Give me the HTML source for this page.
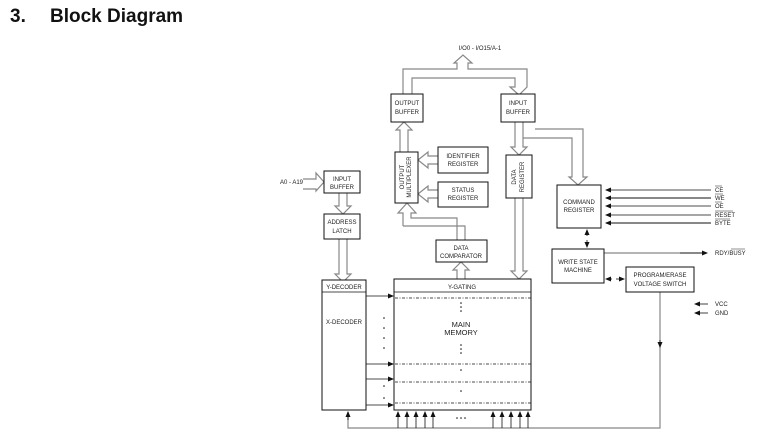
<!DOCTYPE html>
<html><head><meta charset="utf-8"><style>
body{margin:0;background:#fff;width:777px;height:445px;overflow:hidden}
svg{display:block}
text{font-family:"Liberation Sans",sans-serif;font-size:6px;fill:#222}
</style></head><body>
<svg width="777" height="445" viewBox="0 0 777 445" xmlns="http://www.w3.org/2000/svg">
<defs>
<marker id="ah" markerWidth="6" markerHeight="6" refX="5" refY="3" orient="auto" markerUnits="userSpaceOnUse"><path d="M0,0.5 L6,3 L0,5.5 z" fill="#111"/></marker>
</defs>
<text x="10" y="22" style="font-size:19px;font-weight:bold;fill:#111">3.</text>
<text x="50" y="22" style="font-size:19px;font-weight:bold;fill:#111">Block Diagram</text>

<g fill="none" stroke="#888" stroke-width="1.2">
<path d="M403,94 V69 H457 V63 H454 L463,55 L472,63 H468 V69 H527 V87 L527,87 L519,95 L510,87 H515 V78 H412 V94"/>
<path d="M400,152 V130 H396 L404,122 L412,130 H408 V152"/>
<path d="M403,226 H465 V240 M457,240 V218 H411 V213 H416 L407,203 L398,213 H403 V226"/>
<path d="M457,279 V270 H453 L461,262 L469,270 H465 V279"/>
<path d="M438,156 H428 V152 L418,160 L428,168 V164 H438"/>
<path d="M438,190 H428 V186 L418,194 L428,202 V198 H438"/>
<path d="M515,122 V147 H511 L519,155 L527,147 H523 V122"/>
<path d="M515,198 V271 H511 L519,279 L527,271 H523 V198"/>
<path d="M535,129 H583 V177 H587 L578,185 L569,177 H572 V138 H523"/>
<path d="M303,179 H316 V173 L324,182 L316,191 V189 H303"/>
<path d="M339,193 V206 H335 L343,214 L351,206 H347 V193"/>
<path d="M339,239 V274 H335 L343,282 L351,274 H347 V239"/>
<path d="M606,198 H711 M606,223 H711 M604,253 H705 M660,292 V428 H348 V412"/>
</g>
<g stroke="#111" stroke-width="1" fill="#fff">
<rect x="391" y="94" width="32" height="28"/>
<rect x="501" y="94" width="34" height="28"/>
<rect x="395" y="152" width="23" height="51"/>
<rect x="438" y="147" width="50" height="26"/>
<rect x="438" y="182" width="50" height="25"/>
<rect x="506" y="155" width="26" height="43"/>
<rect x="324" y="171" width="36" height="22"/>
<rect x="324" y="214" width="36" height="25"/>
<rect x="436" y="240" width="51" height="22"/>
<rect x="557" y="185" width="44" height="43"/>
<rect x="552" y="249" width="52" height="34"/>
<rect x="626" y="267" width="68" height="25"/>
<rect x="322" y="280" width="44" height="130"/>
<rect x="394" y="279" width="137" height="131"/>
</g>
<g stroke="#111" stroke-width="0.8" fill="none">
<path d="M322,292 H366 M394,292 H531"/>
<path d="M395,298 H531 M395,364 H531 M395,382 H531 M395,403 H531" stroke-dasharray="3,1.5,1,1.5"/>
<path d="M711,190 H606" marker-end="url(#ah)"/>
<path d="M711,198 H606" marker-end="url(#ah)"/>
<path d="M711,206 H606" marker-end="url(#ah)"/>
<path d="M711,215 H606" marker-end="url(#ah)"/>
<path d="M711,223 H606" marker-end="url(#ah)"/>
<path d="M680,253 H707" marker-end="url(#ah)"/>
<path d="M708,304 H695" marker-end="url(#ah)"/>
<path d="M708,313 H695" marker-end="url(#ah)"/>
<path d="M587,236 V230" marker-end="url(#ah)"/>
<path d="M587,240 V247" marker-end="url(#ah)"/>
<path d="M612,279 H606" marker-end="url(#ah)"/>
<path d="M616,279 H624" marker-end="url(#ah)"/>
<path d="M660,340 V347" marker-end="url(#ah)"/>
<path d="M366,296 H393" marker-end="url(#ah)"/>
<path d="M366,364 H393" marker-end="url(#ah)"/>
<path d="M366,379 H393" marker-end="url(#ah)"/>
<path d="M366,405 H393" marker-end="url(#ah)"/>
<path d="M348,420 V412" marker-end="url(#ah)"/>
<path d="M398,428 V412" marker-end="url(#ah)"/><path d="M407,428 V412" marker-end="url(#ah)"/><path d="M416,428 V412" marker-end="url(#ah)"/><path d="M425,428 V412" marker-end="url(#ah)"/><path d="M433,428 V412" marker-end="url(#ah)"/>
<path d="M493,428 V412" marker-end="url(#ah)"/><path d="M502,428 V412" marker-end="url(#ah)"/><path d="M511,428 V412" marker-end="url(#ah)"/><path d="M520,428 V412" marker-end="url(#ah)"/><path d="M528,428 V412" marker-end="url(#ah)"/>
</g>
<g fill="#111">
<circle cx="384" cy="318" r="0.8"/><circle cx="384" cy="328" r="0.8"/><circle cx="384" cy="338" r="0.8"/><circle cx="384" cy="348" r="0.8"/>
<circle cx="384" cy="386" r="0.8"/><circle cx="384" cy="398" r="0.8"/>
<circle cx="461" cy="303" r="0.8"/><circle cx="461" cy="307" r="0.8"/><circle cx="461" cy="311" r="0.8"/>
<circle cx="461" cy="345" r="0.8"/><circle cx="461" cy="349" r="0.8"/><circle cx="461" cy="353" r="0.8"/>
<circle cx="461" cy="370" r="0.8"/><circle cx="461" cy="391" r="0.8"/>
<circle cx="457" cy="418" r="0.8"/><circle cx="461" cy="418" r="0.8"/><circle cx="465" cy="418" r="0.8"/>
</g>
<g text-anchor="middle">
<text x="480" y="50">I/O0 - I/O15/A-1</text>
<text x="407" y="105">OUTPUT</text><text x="407" y="114">BUFFER</text>
<text x="518" y="105">INPUT</text><text x="518" y="114">BUFFER</text>
<text x="463" y="158">IDENTIFIER</text><text x="463" y="166">REGISTER</text>
<text x="463" y="192">STATUS</text><text x="463" y="200">REGISTER</text>
<text x="342" y="181">INPUT</text><text x="342" y="189">BUFFER</text>
<text x="342" y="224">ADDRESS</text><text x="342" y="233">LATCH</text>
<text x="461" y="250">DATA</text><text x="461" y="258">COMPARATOR</text>
<text x="579" y="204">COMMAND</text><text x="579" y="212">REGISTER</text>
<text x="578" y="264">WRITE STATE</text><text x="578" y="272">MACHINE</text>
<text x="660" y="277">PROGRAM/ERASE</text><text x="660" y="286">VOLTAGE SWITCH</text>
<text x="344" y="289">Y-DECODER</text>
<text x="344" y="324">X-DECODER</text>
<text x="462" y="289">Y-GATING</text>
<text x="461" y="327" style="font-size:7.5px">MAIN</text><text x="461" y="335" style="font-size:7.5px">MEMORY</text>
<text transform="translate(404,177) rotate(-90)">OUTPUT</text>
<text transform="translate(411,177) rotate(-90)">MULTIPLEXER</text>
<text transform="translate(516,177) rotate(-90)">DATA</text>
<text transform="translate(524,177) rotate(-90)">REGISTER</text>
</g>
<text x="280" y="184">A0 - A19</text>
<text x="715" y="192">CE</text><path d="M715,186 H722" stroke="#222" stroke-width="0.5"/>
<text x="715" y="200">WE</text><path d="M715,194 H723" stroke="#222" stroke-width="0.5"/>
<text x="715" y="208">OE</text><path d="M715,202 H722" stroke="#222" stroke-width="0.5"/>
<text x="715" y="217">RESET</text><path d="M715,211 H733" stroke="#222" stroke-width="0.5"/>
<text x="715" y="225">BYTE</text><path d="M715,219 H730" stroke="#222" stroke-width="0.5"/>
<text x="715" y="255">RDY/BUSY</text><path d="M731,249 H745" stroke="#222" stroke-width="0.5"/>
<text x="715" y="306">VCC</text>
<text x="715" y="315">GND</text>
</svg>
</body></html>
